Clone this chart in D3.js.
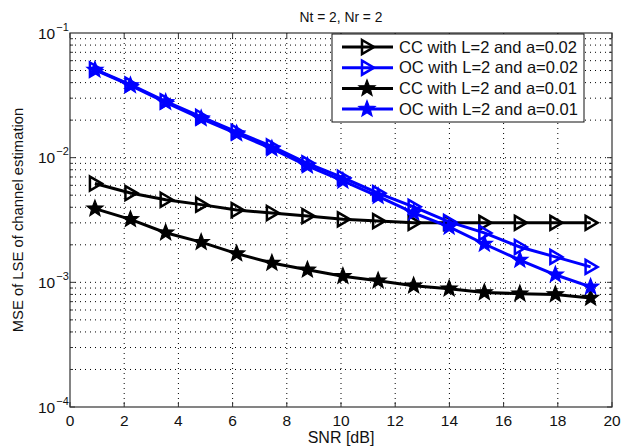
<!DOCTYPE html>
<html>
<head>
<meta charset="utf-8">
<script src="https://cdn.jsdelivr.net/npm/d3@7"></script>
<style>
body { margin: 0; background: #fff; }
text { font-family: "Liberation Sans", Arial, sans-serif; fill: #111; }
</style>
</head>
<body>
<div id="vis"></div>
<script>
// values
const snr = [0.92, 2.23, 3.53, 4.84, 6.15, 7.45, 8.76, 10.07, 11.37, 12.68, 13.99, 15.29, 16.6, 17.91, 19.21]
const ccA02 = [0.0062, 0.0052, 0.0046, 0.0042, 0.0038, 0.0036, 0.0034, 0.0032, 0.0031, 0.0030, 0.0030, 0.0030, 0.0030, 0.0030, 0.0030]
const ocA02 = [0.051, 0.0385, 0.0283, 0.0212, 0.0161, 0.0123, 0.0090, 0.0069, 0.0052, 0.00403, 0.00305, 0.00249, 0.00192, 0.00160, 0.00133]
const ccA01 = [0.0039, 0.0032, 0.0025, 0.0021, 0.0017, 0.00143, 0.00126, 0.00112, 0.00103, 0.00094, 0.00089, 0.00083, 0.00081, 0.00080, 0.00075]
const ocA01 = [0.0505, 0.0380, 0.0278, 0.0206, 0.0156, 0.0118, 0.0086, 0.0065, 0.0049, 0.00361, 0.00278, 0.00203, 0.00151, 0.00115, 0.00092]
const seriesNames = ["CC with L=2 and a=0.02", "OC with L=2 and a=0.02", "CC with L=2 and a=0.01", "OC with L=2 and a=0.01"]
const xTicks = [0, 2, 4, 6, 8, 10, 12, 14, 16, 18, 20]
const yExps = [-4, -3, -2, -1]

const width = 624
const height = 447
const plot = { left: 70, right: 612, top: 33, bottom: 407 }

const series = [
    { name: seriesNames[0], values: ccA02, color: "#000", marker: "tri" },
    { name: seriesNames[1], values: ocA02, color: "#0000ff", marker: "tri" },
    { name: seriesNames[2], values: ccA01, color: "#000", marker: "star" },
    { name: seriesNames[3], values: ocA01, color: "#0000ff", marker: "star" }
]

var svg = d3.select("#vis")
    .append("svg")
    .attr("width", width)
    .attr("height", height)

var x = d3.scaleLinear().domain([0, 20]).range([plot.left, plot.right])
var y = d3.scaleLog().domain([1e-4, 1e-1]).range([plot.bottom, plot.top])

// minor + major y values for log grid
var yGrid = []
yExps.slice(0, 3).forEach(e => {
    for (let m = 1; m < 10; m++) yGrid.push(m * Math.pow(10, e))
})

// grid
var grid = svg.append("g").attr("stroke", "#000").attr("stroke-width", 1).attr("stroke-dasharray", "1,4")
grid.selectAll(".gx")
    .data(xTicks.slice(1, -1))
    .join("line")
    .attr("x1", d => x(d)).attr("x2", d => x(d))
    .attr("y1", plot.top).attr("y2", plot.bottom)
grid.selectAll(".gy")
    .data(yGrid.slice(1))
    .join("line")
    .attr("x1", plot.left).attr("x2", plot.right)
    .attr("y1", d => y(d)).attr("y2", d => y(d))

// axes box and ticks
svg.append("rect")
    .attr("x", plot.left).attr("y", plot.top)
    .attr("width", plot.right - plot.left).attr("height", plot.bottom - plot.top)
    .attr("fill", "none").attr("stroke", "#333").attr("stroke-width", 1.2)

var ticks = svg.append("g").attr("stroke", "#333").attr("stroke-width", 1)
ticks.selectAll(".tx")
    .data(xTicks)
    .join("path")
    .attr("d", d => `M${x(d)},${plot.bottom}v-5M${x(d)},${plot.top}v5`)
ticks.selectAll(".ty")
    .data(yGrid)
    .join("path")
    .attr("d", d => {
        const len = Math.abs(Math.log10(d) - Math.round(Math.log10(d))) < 1e-9 ? 5 : 3
        return `M${plot.left},${y(d)}h${len}M${plot.right},${y(d)}h${-len}`
    })

// tick labels
svg.selectAll(".xl")
    .data(xTicks)
    .join("text")
    .attr("x", d => x(d))
    .attr("y", 426)
    .attr("text-anchor", "middle")
    .attr("font-size", 15.5)
    .text(d => d)

var yl = svg.selectAll(".yl")
    .data(yExps)
    .join("text")
    .attr("x", 38)
    .attr("y", d => y(Math.pow(10, d)) + 5.5)
    .attr("font-size", 15.5)
yl.append("tspan").text("10")
yl.append("tspan").attr("font-size", 11).attr("dy", -8).attr("dx", 1).text(d => "\u2212" + Math.abs(d))

// axis labels and title
svg.append("text")
    .attr("x", x(10)).attr("y", 443)
    .attr("text-anchor", "middle").attr("font-size", 16)
    .text("SNR [dB]")
svg.append("text")
    .attr("transform", `translate(23,${(plot.top + plot.bottom) / 2}) rotate(-90)`)
    .attr("text-anchor", "middle").attr("font-size", 14.8)
    .text("MSE of LSE of channel estimation")
svg.append("text")
    .attr("x", x(10)).attr("y", 22)
    .attr("text-anchor", "middle").attr("font-size", 13.8)
    .text("Nt = 2, Nr = 2")

// markers
function starPath(ro, ri) {
    var pts = []
    for (let i = 0; i < 10; i++) {
        const r = i % 2 === 0 ? ro : ri
        const a = -Math.PI / 2 + i * Math.PI / 5
        pts.push([r * Math.cos(a), r * Math.sin(a)])
    }
    return "M" + pts.map(p => p[0].toFixed(2) + "," + p[1].toFixed(2)).join("L") + "Z"
}
const triPath = "M-5,-7L7,0L-5,7Z"
const star = starPath(8.5, 3.6)

function drawMarker(g, kind, color) {
    if (kind === "tri") {
        g.append("path").attr("d", triPath).attr("fill", "none")
            .attr("stroke", color).attr("stroke-width", 2.5).attr("stroke-linejoin", "miter")
    } else {
        g.append("path").attr("d", star).attr("fill", color)
            .attr("stroke", color).attr("stroke-width", 1.2)
    }
}

svg.append("clipPath").attr("id", "clip")
    .append("rect")
    .attr("x", plot.left).attr("y", plot.top)
    .attr("width", plot.right - plot.left).attr("height", plot.bottom - plot.top)

var line = d3.line().x((d, i) => x(snr[i])).y(d => y(d))

var dataG = svg.append("g").attr("clip-path", "url(#clip)")
series.forEach(s => {
    dataG.append("path")
        .attr("d", line(s.values))
        .attr("fill", "none")
        .attr("stroke", s.color)
        .attr("stroke-width", 3)
    s.values.forEach((v, i) => {
        var g = dataG.append("g").attr("transform", `translate(${x(snr[i])},${y(v)})`)
        drawMarker(g, s.marker, s.color)
    })
})

// legend
var leg = svg.append("g")
leg.append("rect")
    .attr("x", 332).attr("y", 34)
    .attr("width", 252).attr("height", 88)
    .attr("fill", "#fff").attr("stroke", "#111").attr("stroke-width", 1)
series.forEach((s, i) => {
    const ly = 47 + i * 20.7
    leg.append("line")
        .attr("x1", 342).attr("x2", 393)
        .attr("y1", ly).attr("y2", ly)
        .attr("stroke", s.color).attr("stroke-width", 3)
    drawMarker(leg.append("g").attr("transform", `translate(367,${ly})`), s.marker, s.color)
    leg.append("text")
        .attr("x", 399).attr("y", ly + 5.5)
        .attr("font-size", 16.5)
        .text(s.name)
})
</script>
</body>
</html>
